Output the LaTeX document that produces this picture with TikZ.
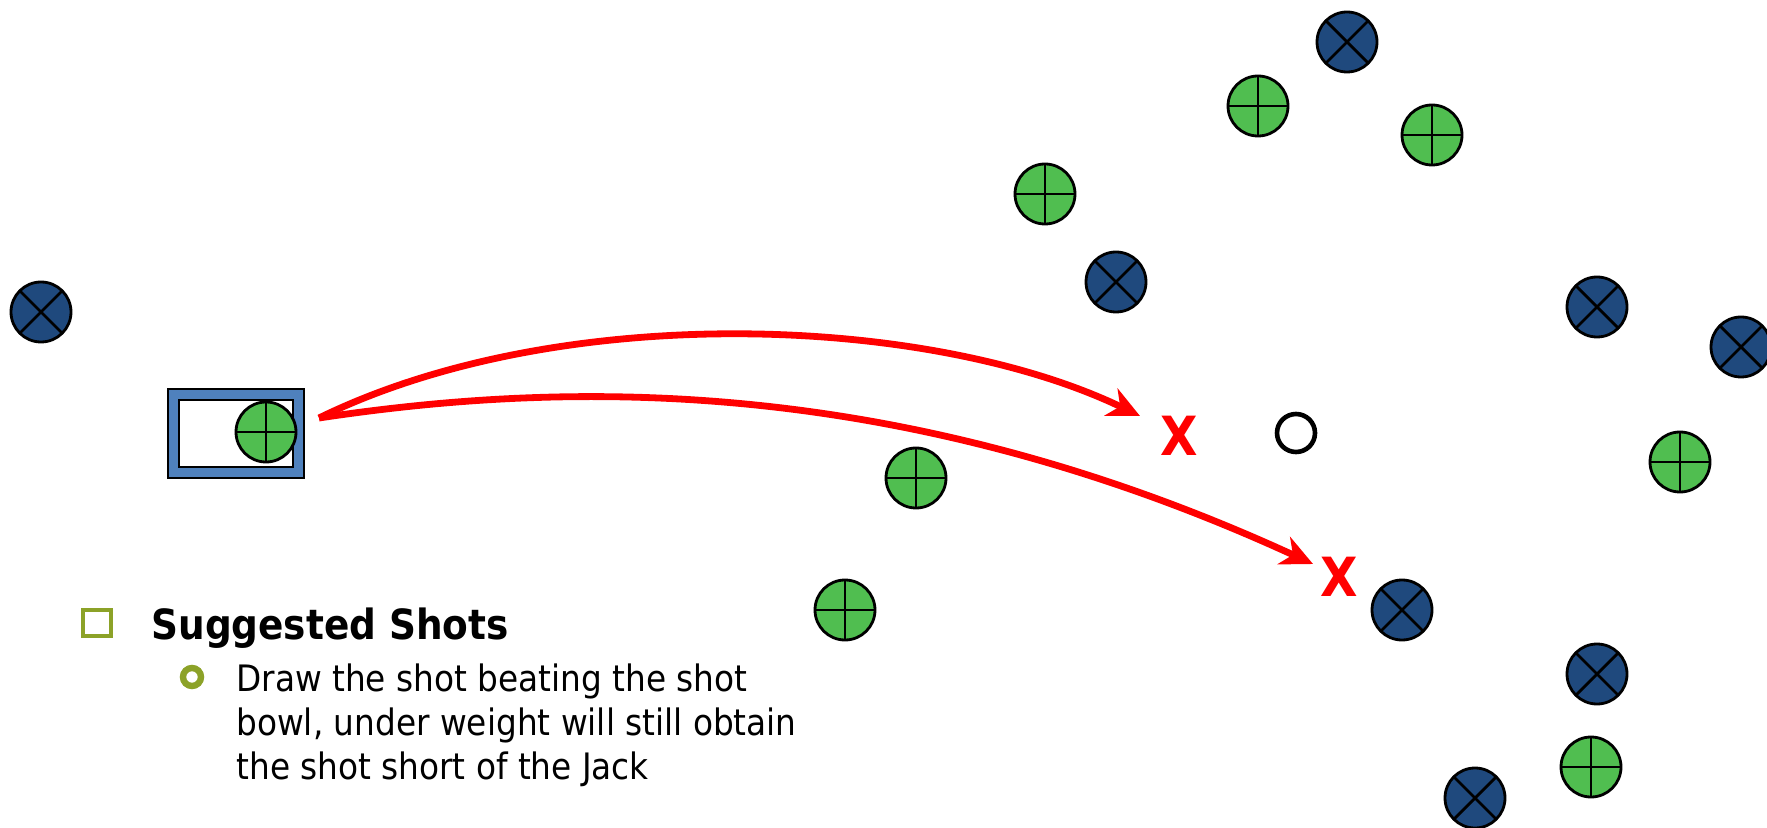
\documentclass[tikz,border=0pt]{standalone}
\usepackage{fontspec}
\usepackage{tikz}
\usetikzlibrary{arrows.meta}
\newfontfamily\slidefont{DejaVu Sans Condensed}

\definecolor{awayblue}{RGB}{31,73,125}
\definecolor{homegreen}{RGB}{80,190,80}
\definecolor{matblue}{RGB}{79,129,189}
\definecolor{bulletgreen}{RGB}{140,162,40}
\definecolor{shotred}{RGB}{255,0,0}

\tikzset{
    bowl/.style={
        circle,
        draw=black,
        line width=1.4pt,
        minimum size=30pt,
        inner sep=0pt
    },
    homebowl/.style={
        bowl,
        fill=homegreen,
        path picture={
            \draw[line width=1.4pt]
                (path picture bounding box.north) -- (path picture bounding box.south)
                (path picture bounding box.west) -- (path picture bounding box.east);
        }
    },
    awaybowl/.style={
        bowl,
        fill=awayblue,
        path picture={
            \draw[line width=1.4pt]
                (path picture bounding box.north west) -- (path picture bounding box.south east)
                (path picture bounding box.north east) -- (path picture bounding box.south west);
        }
    },
    shotmark/.style={
        text=shotred,
        inner sep=0pt,
        font=\slidefont\fontsize{27}{27}\selectfont\bfseries
    },
    shotpath/.style={
        draw=shotred,
        line width=3.4pt,
        -{Stealth[length=16pt,width=15pt,inset=5pt]}
    },
    bodyline/.style={
        anchor=base west,
        inner sep=0pt,
        font=\slidefont\fontsize{18.2}{18.2}\selectfont
    }
}

\begin{document}
\begin{tikzpicture}[x=0.5pt, y=-0.5pt]

\useasboundingbox (0,0) rectangle (1767,828);

%---------------------------------
% Mat
%---------------------------------
\filldraw[fill=matblue, draw=black, line width=1.3pt] (168,389) rectangle (304,478);
\filldraw[fill=white, draw=black, line width=1.3pt] (179,400) rectangle (293,467);

%---------------------------------
% Jack and bowls
%---------------------------------
\node[circle, draw=black, line width=2.3pt, minimum size=19pt, inner sep=0pt] (jack) at (1296,433) {};

% Away bowls
\node[awaybowl] (a1) at (1347,42) {};
\node[awaybowl] (a2) at (41,312) {};
\node[awaybowl] (a3) at (1116,282) {};
\node[awaybowl] (a4) at (1597,307) {};
\node[awaybowl] (a5) at (1741,347) {};
\node[awaybowl] (a6) at (1402,610) {};
\node[awaybowl] (a7) at (1597,674) {};
\node[awaybowl] (a8) at (1475,798) {};

% Home bowls
\node[homebowl] (h1) at (1258,106) {};
\node[homebowl] (h2) at (1432,135) {};
\node[homebowl] (h3) at (1045,194) {};
\node[homebowl] (h4) at (916,478) {};
\node[homebowl] (h5) at (845,610) {};
\node[homebowl] (h6) at (1680,462) {};
\node[homebowl] (h7) at (1591,767) {};
\node[homebowl] (h8) at (266,432) {};

%---------------------------------
% Target marks
%---------------------------------
\node[shotmark] (x1) at (1179,436) {X};
\node[shotmark] (x2) at (1339,577) {X};

%---------------------------------
% Suggested shots
%---------------------------------
\coordinate (release) at (319,418);
\coordinate (aim1) at (1140,416);
\coordinate (aim2) at (1313,564);

\draw[shotpath] (release) .. controls (560,300) and (930,315) .. (aim1);
\draw[shotpath] (release) .. controls (540,385) and (880,365) .. (aim2);

%---------------------------------
% Text
%---------------------------------
\draw[bulletgreen, line width=2.2pt] (83,610) rectangle (111,636);
\node[anchor=base west, inner sep=0pt, font=\slidefont\fontsize{20.8}{20.8}\selectfont\bfseries] (head) at (151,639) {Suggested Shots};

\draw[bulletgreen, line width=3.2pt] (192,677) circle (4.5pt);
\node[bodyline] (line1) at (236,691) {Draw the shot beating the shot};
\node[bodyline] (line2) at (236,735) {bowl, under weight will still obtain};
\node[bodyline] (line3) at (236,779) {the shot short of the Jack};

\end{tikzpicture}
\end{document}
